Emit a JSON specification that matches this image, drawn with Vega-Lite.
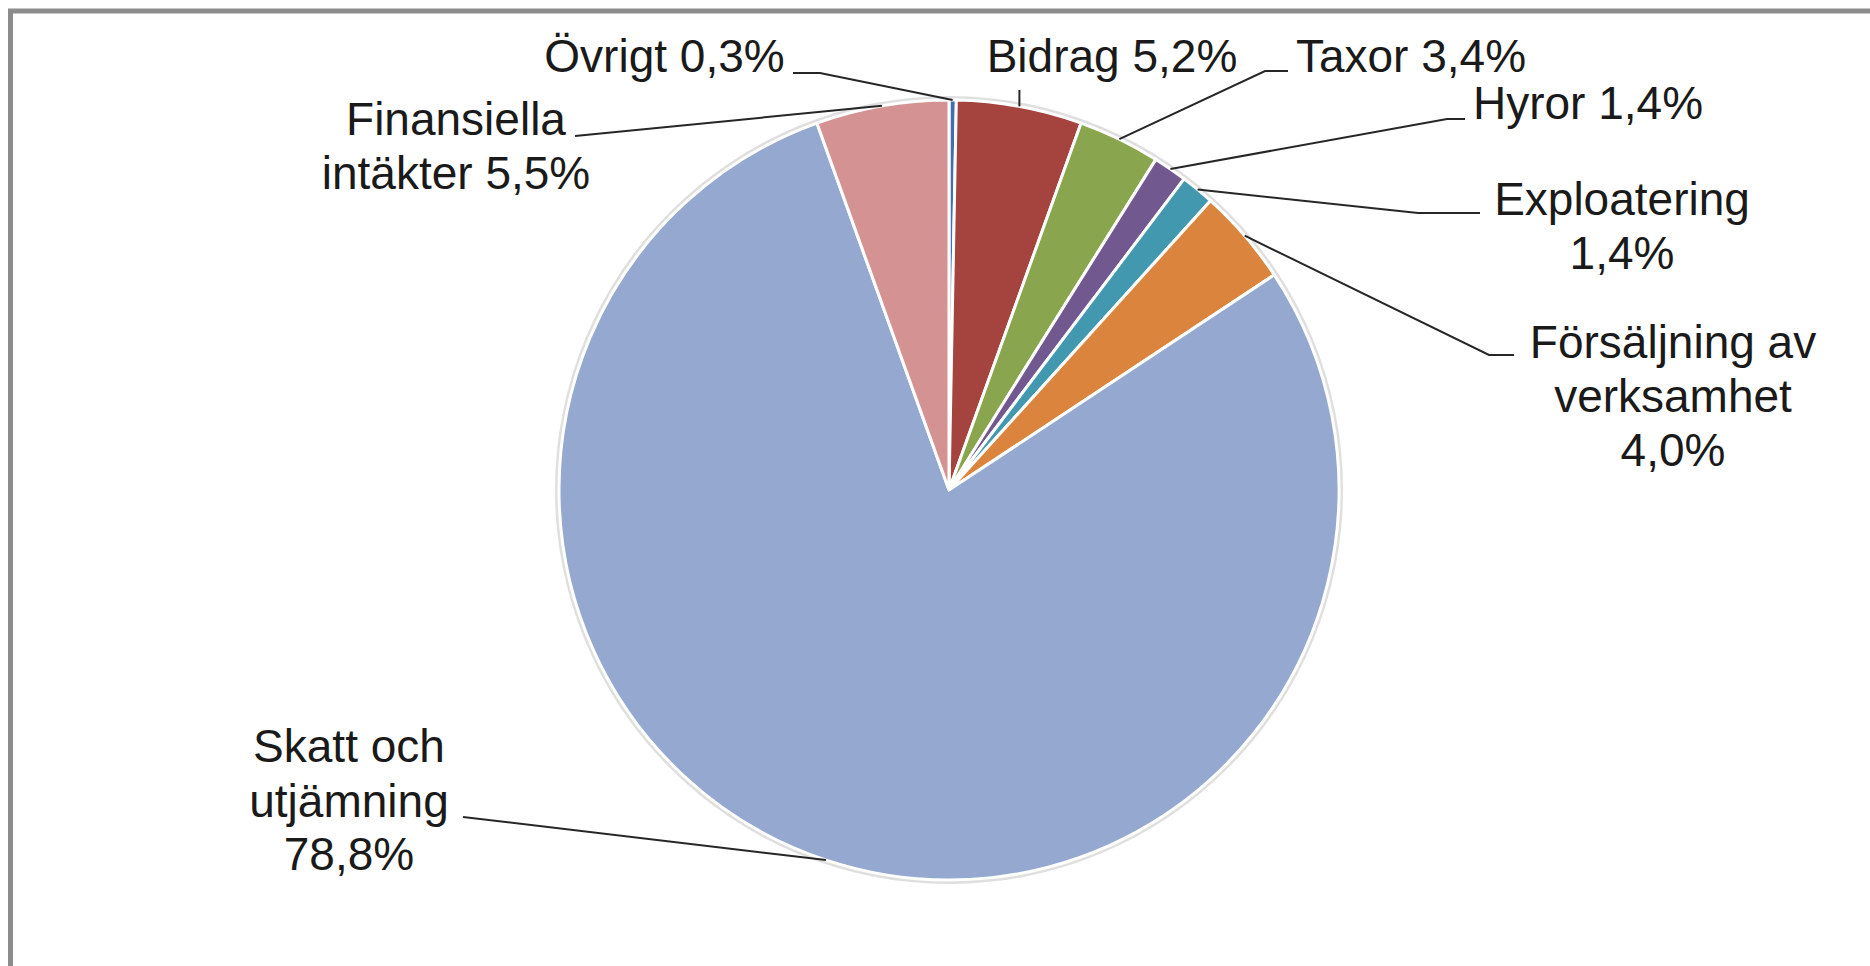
{
  "$schema": "https://vega.github.io/schema/vega-lite/v6.json",
  "width": 1870,
  "height": 966,
  "autosize": {"type": "none"},
  "padding": 0,
  "background": "white",
  "config": {"view": {"stroke": null}},
  "datasets": {
    "slices": [
      {"cat": "Övrigt", "value": 0.3, "idx": 1},
      {"cat": "Bidrag", "value": 5.2, "idx": 2},
      {"cat": "Taxor", "value": 3.4, "idx": 3},
      {"cat": "Hyror", "value": 1.4, "idx": 4},
      {"cat": "Exploatering", "value": 1.4, "idx": 5},
      {"cat": "Försäljning av verksamhet", "value": 4.0, "idx": 6},
      {"cat": "Skatt och utjämning", "value": 78.8, "idx": 7},
      {"cat": "Finansiella intäkter", "value": 5.5, "idx": 8}
    ],
    "labels": [
      {"t": "Övrigt 0,3%", "x": -72.95, "y": 107.18},
      {"t": "Finansiella", "x": -126.41, "y": 91.03},
      {"t": "intäkter 5,5%", "x": -126.41, "y": 77.18},
      {"t": "Bidrag 5,2%", "x": 41.79, "y": 107.18},
      {"t": "Taxor 3,4%", "x": 118.46, "y": 107.18},
      {"t": "Hyror 1,4%", "x": 163.85, "y": 95.13},
      {"t": "Exploatering", "x": 172.56, "y": 70.51},
      {"t": "1,4%", "x": 172.56, "y": 56.67},
      {"t": "Försäljning av", "x": 185.64, "y": 33.85},
      {"t": "verksamhet", "x": 185.64, "y": 20.0},
      {"t": "4,0%", "x": 185.64, "y": 6.15},
      {"t": "Skatt och", "x": -153.85, "y": -69.74},
      {"t": "utjämning", "x": -153.85, "y": -83.85},
      {"t": "78,8%", "x": -153.85, "y": -97.44}
    ],
    "leaders": [
      {"cat": "Övrigt", "pt": 1, "x": -40.0, "y": 106.92},
      {"cat": "Övrigt", "pt": 2, "x": -33.08, "y": 106.92},
      {"cat": "Övrigt", "pt": 3, "x": 0.94, "y": 100.0},
      {"cat": "Finansiella", "pt": 1, "x": -95.9, "y": 90.77},
      {"cat": "Finansiella", "pt": 2, "x": -17.19, "y": 98.51},
      {"cat": "Bidrag", "pt": 1, "x": 18.05, "y": 102.56},
      {"cat": "Bidrag", "pt": 2, "x": 18.05, "y": 98.36},
      {"cat": "Taxor", "pt": 1, "x": 86.92, "y": 107.44},
      {"cat": "Taxor", "pt": 2, "x": 81.03, "y": 107.44},
      {"cat": "Taxor", "pt": 3, "x": 43.68, "y": 89.96},
      {"cat": "Hyror", "pt": 1, "x": 132.31, "y": 95.13},
      {"cat": "Hyror", "pt": 2, "x": 127.69, "y": 95.13},
      {"cat": "Hyror", "pt": 3, "x": 56.78, "y": 82.31},
      {"cat": "Exploatering", "pt": 1, "x": 136.15, "y": 71.03},
      {"cat": "Exploatering", "pt": 2, "x": 120.26, "y": 71.03},
      {"cat": "Exploatering", "pt": 3, "x": 63.74, "y": 77.05},
      {"cat": "Försäljning", "pt": 1, "x": 144.87, "y": 34.62},
      {"cat": "Försäljning", "pt": 2, "x": 138.46, "y": 34.62},
      {"cat": "Försäljning", "pt": 3, "x": 75.81, "y": 65.21},
      {"cat": "Skatt", "pt": 1, "x": -124.62, "y": -83.85},
      {"cat": "Skatt", "pt": 2, "x": -31.56, "y": -94.89}
    ]
  },
  "layer": [
    {
      "data": {"values": [{}]},
      "mark": {"type": "rect", "fill": null, "stroke": "#8c8c8c", "strokeWidth": 5},
      "encoding": {
        "x": {"datum": -240.64, "type": "quantitative", "scale": {"domain": [-243.33, 236.15], "nice": false, "zero": false}, "axis": null},
        "x2": {"datum": 400},
        "y": {"datum": 122.82, "type": "quantitative", "scale": {"domain": [-122.05, 125.64], "nice": false, "zero": false}, "axis": null},
        "y2": {"datum": -250}
      }
    },
    {
      "data": {"values": [{}]},
      "mark": {"type": "arc", "outerRadius": 394, "theta": 0, "theta2": 6.2832, "fill": "#c4c4c4", "opacity": 0.55},
      "encoding": {
        "x": {"datum": 0, "type": "quantitative", "scale": {"domain": [-243.33, 236.15], "nice": false, "zero": false}, "axis": null},
        "y": {"datum": 0, "type": "quantitative", "scale": {"domain": [-122.05, 125.64], "nice": false, "zero": false}, "axis": null}
      }
    },
    {
      "data": {"name": "slices"},
      "mark": {"type": "arc", "outerRadius": 390, "stroke": "white", "strokeWidth": 3},
      "encoding": {
        "x": {"datum": 0, "type": "quantitative", "scale": {"domain": [-243.33, 236.15], "nice": false, "zero": false}, "axis": null},
        "y": {"datum": 0, "type": "quantitative", "scale": {"domain": [-122.05, 125.64], "nice": false, "zero": false}, "axis": null},
        "theta": {"field": "value", "type": "quantitative", "stack": true},
        "order": {"field": "idx", "type": "quantitative", "sort": "ascending"},
        "color": {
          "field": "cat",
          "type": "nominal",
          "scale": {
            "domain": ["Övrigt", "Bidrag", "Taxor", "Hyror", "Exploatering", "Försäljning av verksamhet", "Skatt och utjämning", "Finansiella intäkter"],
            "range": ["#3F6FAF", "#A5433F", "#89A54E", "#71588F", "#4198AF", "#DB843D", "#95A8D0", "#D49392"]
          },
          "legend": null
        }
      }
    },
    {
      "data": {"name": "leaders"},
      "mark": {"type": "line", "stroke": "#262626", "strokeWidth": 2},
      "encoding": {
        "x": {"field": "x", "type": "quantitative", "scale": {"domain": [-243.33, 236.15], "nice": false, "zero": false}, "axis": null},
        "y": {"field": "y", "type": "quantitative", "scale": {"domain": [-122.05, 125.64], "nice": false, "zero": false}, "axis": null},
        "detail": {"field": "cat", "type": "nominal"},
        "order": {"field": "pt", "type": "quantitative"}
      }
    },
    {
      "data": {"name": "labels"},
      "mark": {"type": "text", "font": "Liberation Sans", "fontSize": 46, "align": "center", "baseline": "alphabetic", "color": "#1a1a1a"},
      "encoding": {
        "x": {"field": "x", "type": "quantitative", "scale": {"domain": [-243.33, 236.15], "nice": false, "zero": false}, "axis": null},
        "y": {"field": "y", "type": "quantitative", "scale": {"domain": [-122.05, 125.64], "nice": false, "zero": false}, "axis": null},
        "text": {"field": "t", "type": "nominal"}
      }
    }
  ]
}
